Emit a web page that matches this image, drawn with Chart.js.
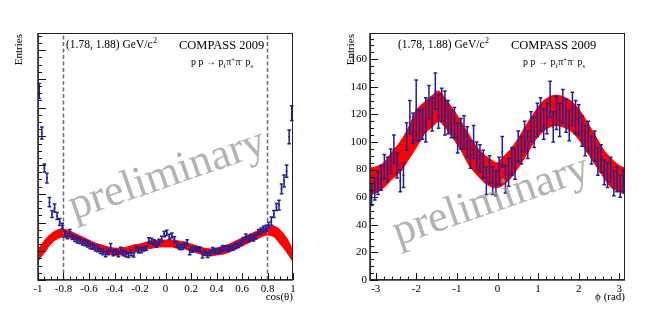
<!DOCTYPE html>
<html lang="en">
<head>
<meta charset="UTF-8">
<title>COMPASS 2009 - angular distributions</title>
<script src="https://cdn.jsdelivr.net/npm/chart.js"></script>
<style>
  body { margin: 0; background: #fff; }
  #wrap { position: relative; width: 664px; height: 315px; }
  .panel { position: absolute; top: 0; width: 332px; height: 315px; }
</style>
</head>
<body>
<div id="wrap">
  <div class="panel" style="left:0"><canvas id="cosChart" width="332" height="315"></canvas></div>
  <div class="panel" style="left:332px"><canvas id="phiChart" width="332" height="315"></canvas></div>
</div>

<script>
// ---- left panel: cos(theta) ----
const cosBins = [
  -0.99,-0.97,-0.95,-0.93,-0.91,-0.89,-0.87,-0.85,-0.83,-0.81,
  -0.79,-0.77,-0.75,-0.73,-0.71,-0.69,-0.67,-0.65,-0.63,-0.61,
  -0.59,-0.57,-0.55,-0.53,-0.51,-0.49,-0.47,-0.45,-0.43,-0.41,
  -0.39,-0.37,-0.35,-0.33,-0.31,-0.29,-0.27,-0.25,-0.23,-0.21,
  -0.19,-0.17,-0.15,-0.13,-0.11,-0.09,-0.07,-0.05,-0.03,-0.01,
  0.01,0.03,0.05,0.07,0.09,0.11,0.13,0.15,0.17,0.19,
  0.21,0.23,0.25,0.27,0.29,0.31,0.33,0.35,0.37,0.39,
  0.41,0.43,0.45,0.47,0.49,0.51,0.53,0.55,0.57,0.59,
  0.61,0.63,0.65,0.67,0.69,0.71,0.73,0.75,0.77,0.79,
  0.81,0.83,0.85,0.87,0.89,0.91,0.93,0.95,0.97,0.99
];
const cosCounts = [
  658,512,390,355,271,230,251,223,202,188,
  160,153,164,150,143,139,136,131,129,125,
  118,116,111,108,101,97,90,97,113,94,
  97,90,104,94,90,87,94,87,108,103,
  104,108,111,137,136,131,123,133,143,160,
  164,150,155,141,122,115,115,122,131,98,
  106,108,108,108,87,94,87,94,104,101,
  99,104,111,111,108,111,113,118,122,129,
  139,150,143,148,146,153,167,171,177,181,
  191,205,230,254,261,317,345,379,498,581
];
const cosErrors = [
  26,21,14,17,16,12,14,12,12,10,
  10,9,12,9,9,10,9,9,10,10,
  9,9,10,10,9,9,9,9,14,10,
  9,9,10,10,9,9,10,7,9,9,
  9,7,7,10,9,9,9,9,9,9,
  9,9,9,10,10,9,9,9,9,10,
  9,7,7,7,10,9,9,9,9,9,
  7,7,9,7,9,7,9,9,9,9,
  9,10,9,10,10,9,9,10,10,10,
  10,14,12,12,17,17,21,21,24,26
];
const cosBandX = [-1,-0.97,-0.94,-0.9,-0.85,-0.8,-0.75,-0.7,-0.65,-0.6,-0.55,-0.5,-0.45,-0.4,-0.35,-0.3,-0.25,-0.2,-0.15,-0.1,-0.05,0,0.05,0.1,0.15,0.2,0.25,0.3,0.35,0.4,0.45,0.5,0.55,0.6,0.65,0.7,0.75,0.8,0.85,0.9,0.95,1];
const cosBandHi = [104,125,143,160,174,177,171,160,150,139,129,122,115,111,111,115,122,125,132,136,139,139,139,136,132,125,118,111,108,111,118,125,136,146,157,167,177,184,188,174,146,104];
const cosBandLo = [66,84,101,125,143,150,146,139,129,118,108,97,90,87,87,90,97,101,108,111,115,115,115,111,108,101,94,87,84,87,90,97,108,118,129,139,150,157,150,125,97,63];
const cosCuts = [-0.8, 0.8];

// ---- right panel: phi ----
const phiBins = [
  -3.102,-3.024,-2.945,-2.867,-2.788,-2.710,-2.631,-2.553,-2.474,-2.395,
  -2.317,-2.238,-2.160,-2.081,-2.003,-1.924,-1.846,-1.767,-1.689,-1.610,
  -1.532,-1.453,-1.374,-1.296,-1.217,-1.139,-1.060,-0.982,-0.903,-0.825,
  -0.746,-0.668,-0.589,-0.511,-0.432,-0.353,-0.275,-0.196,-0.118,-0.039,
  0.039,0.118,0.196,0.275,0.353,0.432,0.511,0.589,0.668,0.746,
  0.825,0.903,0.982,1.060,1.139,1.217,1.296,1.374,1.453,1.532,
  1.610,1.689,1.767,1.846,1.924,2.003,2.081,2.160,2.238,2.317,
  2.395,2.474,2.553,2.631,2.710,2.788,2.867,2.945,3.024,3.102
];
const phiCounts = [
  62,66,70,74,82,80,86,95,83,72,
  76,104,118,110,123,112,113,116,129,120,
  137,122,127,121,118,113,114,103,106,107,
  100,91,100,90,88,84,72,80,72,70,
  79,93,73,78,86,84,97,94,104,98,
  111,107,116,120,113,117,131,111,121,116,
  126,119,112,124,118,116,108,101,104,94,
  97,86,88,78,76,80,70,73,68,72
];
const phiErrors = [
  8,8,8,9,9,9,9,10,9,8,
  9,10,12,11,22,11,11,16,12,12,
  13,12,12,16,12,10,11,11,11,12,
  11,10,12,10,10,10,10,10,10,9,
  10,11,10,10,10,11,11,10,11,10,
  11,11,12,12,11,11,13,11,12,12,
  12,12,11,12,12,11,11,11,11,10,
  11,10,10,9,9,9,9,9,8,8
];
const phiBandX = [-3.1416,-3.0,-2.8,-2.6,-2.4,-2.2,-2.0,-1.8,-1.6,-1.45,-1.3,-1.1,-0.9,-0.7,-0.5,-0.3,-0.1,0,0.1,0.3,0.5,0.7,0.9,1.1,1.3,1.45,1.6,1.8,2.0,2.2,2.4,2.6,2.8,3.0,3.1416];
const phiBandHi = [81,82,85,93,100,110,123,129,134,137,132,124,115,105,96,90,86,85,88,94,102,112,121,129,133,134,133,130,124,115,105,95,88,83,81];
const phiBandLo = [62,63,67,73,78,87,96,106,111,115,111,103,94,83,76,70,67,67,68,73,81,90,100,107,111,112,111,108,102,93,84,75,67,64,62];

const dataBlue = '#1e1e9a';
const bandRed = '#ff0000';
Chart.defaults.font.family = "'Liberation Serif', 'Times New Roman', serif";
Chart.defaults.color = '#000';

function xy(xs, ys) {
  return xs.map((x, i) => ({ x: x, y: ys[i] }));
}

// error bars, frame, inner ticks and the texts, ROOT style
const rootStyle = {
  id: 'rootStyle',
  afterDatasetDraw(chart, args) {
    const ds = chart.data.datasets[args.index];
    if (!ds.errors) return;
    const ctx = chart.ctx;
    const ys = chart.scales.y;
    ctx.save();
    ctx.strokeStyle = dataBlue;
    ctx.lineWidth = 1.5;
    args.meta.data.forEach((pt, i) => {
      const v = ds.data[i].y, e = ds.errors[i];
      const top = ys.getPixelForValue(v + e);
      const bot = ys.getPixelForValue(v - e);
      ctx.beginPath();
      ctx.moveTo(pt.x, top); ctx.lineTo(pt.x, bot);
      ctx.moveTo(pt.x - 1.8, top); ctx.lineTo(pt.x + 1.8, top);
      ctx.moveTo(pt.x - 1.8, bot); ctx.lineTo(pt.x + 1.8, bot);
      ctx.stroke();
    });
    ctx.restore();
  },
  afterDraw(chart, args, o) {
    const ctx = chart.ctx;
    const a = chart.chartArea;
    const xs = chart.scales.x, ys = chart.scales.y;

    // watermark
    ctx.save();
    ctx.fillStyle = 'rgba(150,150,150,0.72)';
    ctx.font = "44px 'Liberation Serif'";
    ctx.textAlign = 'center';
    ctx.translate(o.mark[0], o.mark[1]);
    ctx.rotate(-o.mark[2] * Math.PI / 180);
    ctx.fillText('preliminary', 0, 0);
    ctx.restore();

    ctx.save();
    // frame
    ctx.strokeStyle = '#222';
    ctx.lineWidth = 1;
    ctx.strokeRect(a.left + 0.5, a.top + 0.5, a.right - a.left - 1, a.bottom - a.top - 1);
    ctx.lineWidth = 1.6;
    ctx.strokeStyle = '#333';
    ctx.beginPath();
    ctx.moveTo(a.left, a.top); ctx.lineTo(a.left, a.bottom); ctx.lineTo(a.right, a.bottom);
    ctx.stroke();

    // inner ticks
    ctx.lineWidth = 1;
    ctx.strokeStyle = '#111';
    ctx.beginPath();
    const [xStep, xEvery] = o.xTicks;
    for (let k = -40; k <= 40; k++) {
      const v = k * xStep;
      if (v < xs.min - 1e-6 || v > xs.max + 1e-6) continue;
      const px = Math.round(xs.getPixelForValue(v)) + 0.5;
      const len = k % xEvery === 0 ? 7 : 3.5;
      ctx.moveTo(px, a.bottom); ctx.lineTo(px, a.bottom - len);
    }
    const [yStep, yEvery] = o.yTicks;
    for (let k = 0; k <= 60; k++) {
      const v = k * yStep;
      if (v > ys.max + 1e-6) continue;
      const py = Math.round(ys.getPixelForValue(v)) + 0.5;
      const len = k % yEvery === 0 ? 8 : 4;
      ctx.moveTo(a.left, py); ctx.lineTo(a.left + len, py);
    }
    ctx.stroke();

    // texts
    ctx.fillStyle = '#000';
    ctx.textBaseline = 'alphabetic';
    ctx.font = "11px 'Liberation Serif'";
    ctx.textAlign = 'right';
    ctx.fillText(o.xTitle, a.right, 300);

    ctx.save();
    ctx.translate(22, 34);
    ctx.rotate(-Math.PI / 2);
    ctx.fillText('Entries', 0, 0);
    ctx.restore();

    ctx.textAlign = 'left';
    ctx.font = "11.5px 'Liberation Serif'";
    const massText = '(1.78, 1.88) GeV/c';
    ctx.fillText(massText, 66, 48);
    const w = ctx.measureText(massText).width;
    ctx.font = "8px 'Liberation Serif'";
    ctx.fillText('2', 66 + w + 0.5, 43);

    ctx.font = "12.5px 'Liberation Serif'";
    ctx.fillText('COMPASS 2009', 179, 49);

    // p p -> p_f pi+ pi- p_s
    const parts = [
      ['p p \u2192 p', 0, 10], ['f', 2.5, 6.5], ['\u03c0', 0, 10], ['+', -3.5, 6.5],
      ['\u03c0', 0, 10], ['-', -3.5, 6.5], [' p', 0, 10], ['s', 2.5, 6.5]
    ];
    let x = 191;
    parts.forEach(([t, dy, size]) => {
      ctx.font = size + "px 'Liberation Serif'";
      ctx.fillText(t, x, 65 + dy);
      x += ctx.measureText(t).width + (size < 10 ? 0.5 : 0);
    });
    ctx.restore();
  }
};

function axisOptions(min, max, step, showLabels, labelFmt) {
  return {
    type: 'linear', min: min, max: max,
    grid: { display: false, drawTicks: false },
    border: { display: false },
    ticks: {
      display: showLabels, stepSize: step, padding: 3, includeBounds: false,
      autoSkip: false, maxRotation: 0, font: { size: 11 }, color: '#000',
      callback: labelFmt
    }
  };
}

function makeChart(id, datasets, xCfg, yCfg, pluginCfg) {
  const x = axisOptions(xCfg.min, xCfg.max, xCfg.step, true, xCfg.fmt);
  x.afterFit = s => { s.height = 35; };
  const y = axisOptions(yCfg.min, yCfg.max, yCfg.step, yCfg.labels, v => String(v));
  y.afterFit = s => { s.width = 38; };
  return new Chart(document.getElementById(id), {
    type: 'scatter',
    data: { datasets: datasets },
    options: {
      responsive: false,
      devicePixelRatio: 1,
      animation: false,
      layout: { padding: { top: 33, right: 39, left: 0, bottom: 0 } },
      scales: { x: x, y: y },
      plugins: {
        legend: { display: false },
        tooltip: { enabled: false },
        rootStyle: pluginCfg
      }
    },
    plugins: [rootStyle]
  });
}

function dataSet(xs, ys, errs) {
  return {
    label: 'data', data: xy(xs, ys), errors: errs,
    pointRadius: 1, pointBackgroundColor: dataBlue, pointBorderWidth: 0, order: 0
  };
}
function bandSet(xs, hi, lo) {
  const common = { showLine: true, pointRadius: 0, borderColor: bandRed, borderWidth: 1, tension: 0.3, order: 2 };
  return [
    Object.assign({ label: 'model', data: xy(xs, hi), fill: '+1', backgroundColor: bandRed }, common),
    Object.assign({ label: 'model', data: xy(xs, lo), fill: false }, common)
  ];
}

// left
const cosYMax = 860;
const cosSets = [dataSet(cosBins, cosCounts, cosErrors)];
cosCuts.forEach(c => cosSets.push({
  label: 'cut', data: [{ x: c, y: 0 }, { x: c, y: cosYMax }], showLine: true,
  borderColor: '#6e6e6e', borderWidth: 1.5, borderDash: [4, 2.5], pointRadius: 0, order: 1
}));
cosSets.push(...bandSet(cosBandX, cosBandHi, cosBandLo));
makeChart('cosChart', cosSets,
  { min: -1, max: 1, step: 0.2, fmt: v => String(Math.round(v * 10) / 10) },
  { min: 0, max: cosYMax, step: 100, labels: false },
  { xTicks: [0.05, 4], yTicks: [25, 4], xTitle: 'cos(\u03b8)', mark: [171, 186, 19] });

// right
const phiSets = [dataSet(phiBins, phiCounts, phiErrors)];
phiSets.push(...bandSet(phiBandX, phiBandHi, phiBandLo));
makeChart('phiChart', phiSets,
  { min: -Math.PI, max: Math.PI, step: 1, fmt: v => String(Math.round(v)) },
  { min: 0, max: 179, step: 20, labels: true },
  { xTicks: [0.2, 5], yTicks: [5, 4], xTitle: '\u03d5 (rad)', mark: [163, 212, 19] });
</script>
</body>
</html>
